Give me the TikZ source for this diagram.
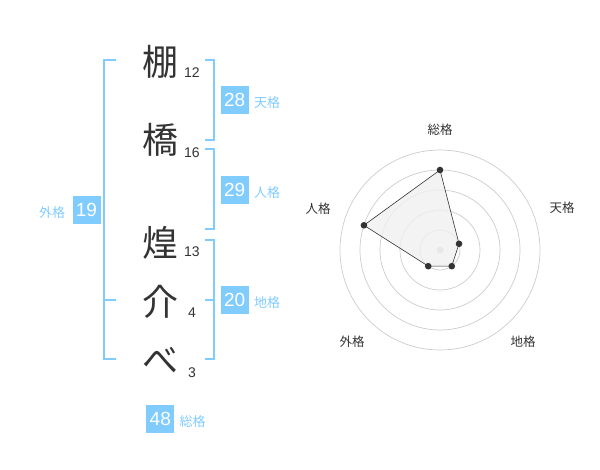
\documentclass[tikz,border=0pt]{standalone}
\usepackage{fontspec}
\setmainfont{Liberation Sans}
\newfontfamily\jpfont{Noto Sans CJK JP}
\usetikzlibrary{positioning}

\definecolor{kakublue}{RGB}{128,204,255}
\definecolor{inkgray}{RGB}{51,51,51}

\tikzset{
  kanji/.style={font=\jpfont\fontsize{36}{36}\selectfont, text=inkgray, inner sep=0pt},
  strokes/.style={font=\fontsize{14}{14}\selectfont, text=inkgray, inner sep=0pt},
  scorebox/.style={fill=kakublue, text=white, minimum size=28pt, inner sep=0pt, font=\fontsize{19}{19}\selectfont},
  scorelabel/.style={font=\jpfont\fontsize{13}{13}\selectfont, text=kakublue, inner sep=0pt},
  bracket/.style={draw=kakublue, line width=2pt},
  ring/.style={draw=black!20, line width=0.7pt},
  axislabel/.style={font=\jpfont\fontsize{12.5}{12.5}\selectfont, text=inkgray, inner sep=0pt}
}

\begin{document}
\begin{tikzpicture}[x=1pt,y=-1pt]
\useasboundingbox (0,0) rectangle (600,470);

% name
\node[kanji] (k1) at (160,62) {棚};
\node[kanji] (k2) at (160,140) {橋};
\node[kanji] (k3) at (160,243) {煌};
\node[kanji] (k4) at (160,302) {介};
\node[kanji] (k5) at (160,360) {べ};
\node[strokes] (n1) at (192,73) {12};
\node[strokes] (n2) at (192,153) {16};
\node[strokes] (n3) at (192,252) {13};
\node[strokes] (n4) at (192,313) {4};
\node[strokes] (n5) at (192,373) {3};

% brackets
\draw[bracket] (205,60) -- (214,60) -- (214,140) -- (205,140);
\draw[bracket] (205,149) -- (214,149) -- (214,229) -- (205,229);
\draw[bracket] (205,240) -- (214,240) -- (214,359) -- (205,359);
\draw[bracket] (205,300) -- (214,300);
\draw[bracket] (116,60) -- (104,60) -- (104,359) -- (116,359);
\draw[bracket] (104,300) -- (116,300);

% scores
\node[scorebox] (ten) at (234.7,100) {28};
\node[scorelabel, right=5pt of ten, yshift=-3pt] (tenlab) {天格};
\node[scorebox] (jin) at (234.7,190) {29};
\node[scorelabel, right=5pt of jin, yshift=-3pt] (jinlab) {人格};
\node[scorebox] (chi) at (234.7,300) {20};
\node[scorelabel, right=5pt of chi, yshift=-3pt] (chilab) {地格};
\node[scorebox] (gai) at (86.5,210) {19};
\node[scorelabel, left=7pt of gai, yshift=-3pt] (gailab) {外格};
\node[scorebox] (sou) at (160.3,419) {48};
\node[scorelabel, right=5pt of sou, yshift=-3pt] (soulab) {総格};

% radar
\begin{scope}[shift={(440,250)}]
\foreach \r in {20,40,...,100}
  \draw[ring] (0,0) circle[radius=\r];
\fill[black!22] (0,0) circle[radius=3.5];
\coordinate (p1) at (-90:80);
\coordinate (p2) at (-18:20);
\coordinate (p3) at (54:20);
\coordinate (p4) at (126:20);
\coordinate (p5) at (198:80);
\filldraw[fill=black!6, fill opacity=0.8, draw=inkgray, line width=0.6pt]
  (p1) -- (p2) -- (p3) -- (p4) -- (p5) -- cycle;
\foreach \p in {p1,p2,p3,p4,p5}
  \fill[inkgray] (\p) circle[radius=3.3];
\end{scope}
\node[axislabel] (asou) at (440,130) {総格};
\node[axislabel] (aten) at (562,208) {天格};
\node[axislabel] (ajin) at (318,209) {人格};
\node[axislabel] (agai) at (352,342) {外格};
\node[axislabel] (achi) at (523,342) {地格};
\end{tikzpicture}
\end{document}
